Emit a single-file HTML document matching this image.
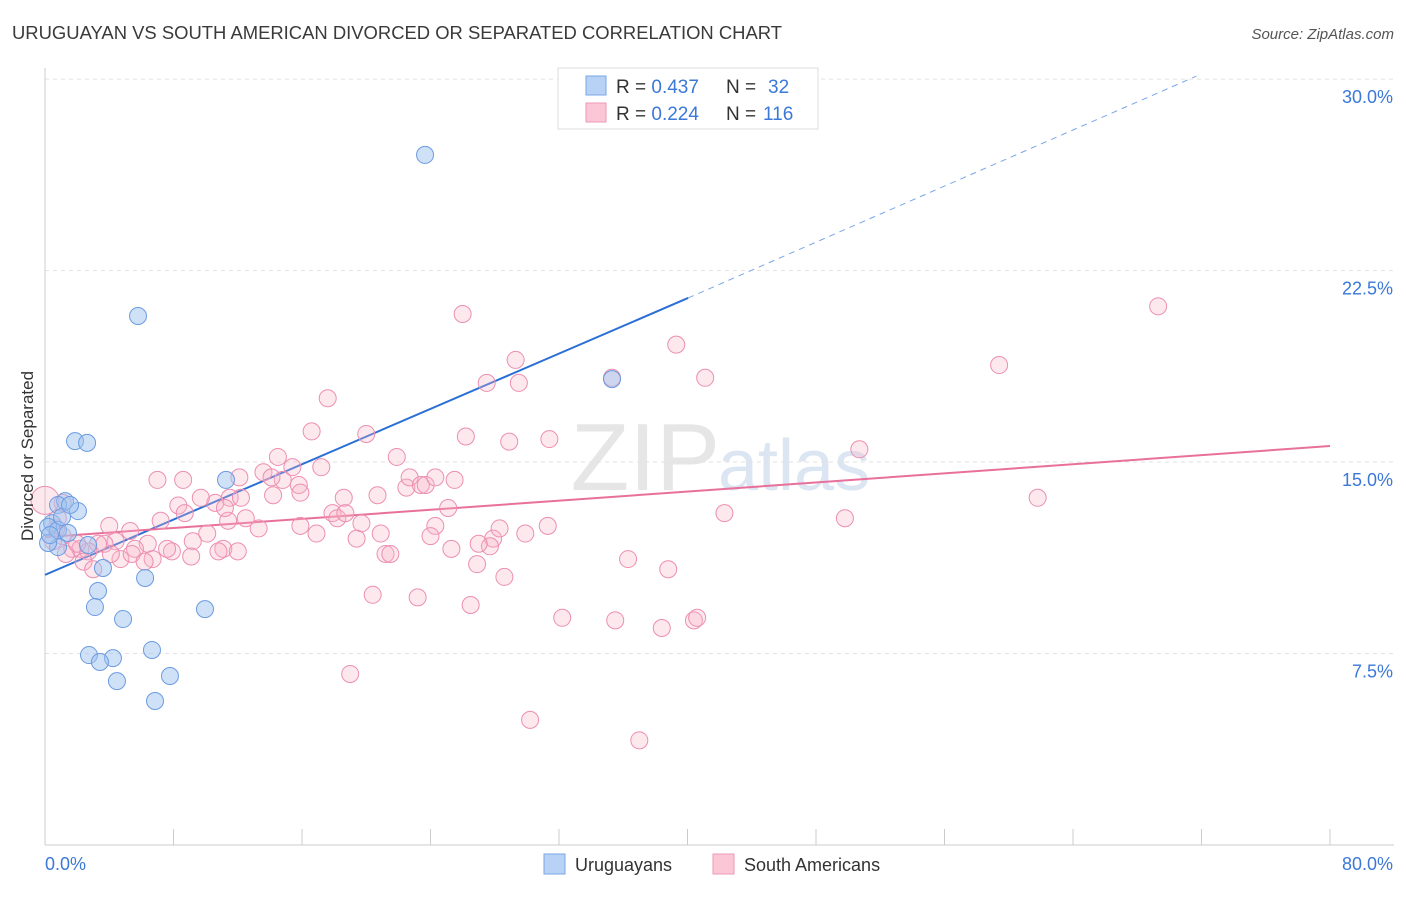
<!DOCTYPE html>
<html><head><meta charset="utf-8"><style>
body{margin:0;background:#fff;font-family:"Liberation Sans",sans-serif}
svg text{font-family:"Liberation Sans",sans-serif}
</style></head><body>
<svg id="chart" width="1406" height="892" viewBox="0 0 1406 892" xmlns="http://www.w3.org/2000/svg">
<text x="12" y="39" font-size="18" textLength="770" lengthAdjust="spacingAndGlyphs" fill="#3a3a3a">URUGUAYAN VS SOUTH AMERICAN DIVORCED OR SEPARATED CORRELATION CHART</text>
<text x="1394" y="39" font-size="15" fill="#555" text-anchor="end" font-style="italic">Source: ZipAtlas.com</text>
<text x="720" y="490" font-size="96" fill="#e6e6e6" text-anchor="end" font-family="Liberation Serif">ZIP</text>
<text x="718" y="490" font-size="72" fill="#dce6f2">atlas</text>
<g id="grid"></g>
<g id="axes"></g>
<g id="lines"></g>
<g id="points"></g>
<text transform="translate(33,456) rotate(-90)" font-size="17" fill="#333" text-anchor="middle">Divorced or Separated</text>
<g>
<rect x="558" y="68" width="260" height="61" fill="#fff" stroke="#ddd"/>
<rect x="586" y="76" width="20" height="19" fill="#b7d2f5" stroke="#7aa6e6"/>
<rect x="586" y="103" width="20" height="19" fill="#fbc6d6" stroke="#ee9ab6"/>
<text x="616" y="93" font-size="19" fill="#333">R = <tspan fill="#3b78d8">0.437</tspan></text>
<text x="726" y="93" font-size="19" fill="#333">N = </text>
<text x="768" y="93" font-size="19" fill="#3b78d8">32</text>
<text x="616" y="120" font-size="19" fill="#333">R = <tspan fill="#3b78d8">0.224</tspan></text>
<text x="726" y="120" font-size="19" fill="#333">N = </text>
<text x="763" y="120" font-size="19" fill="#3b78d8">116</text>
</g>
<g>
<rect x="544" y="854" width="21" height="20" fill="#b7d2f5" stroke="#7aa6e6"/>
<text x="575" y="871" font-size="18" fill="#333">Uruguayans</text>
<rect x="713" y="854" width="21" height="20" fill="#fbc6d6" stroke="#ee9ab6"/>
<text x="744" y="871" font-size="18" fill="#333">South Americans</text>
</g>
</svg>
<script>
const yTicks=[7.5,15,22.5,30];
const yTickLabels=["7.5%","15.0%","22.5%","30.0%"];
const xTickLabels=["0.0%","80.0%"];
const blueX=[23.66,5.79,35.30,1.87,2.62,11.27,1.25,0.81,2.05,0.44,0.19,0.81,1.43,2.68,0.81,0.19,3.61,6.23,3.30,3.11,9.96,4.86,6.66,2.74,4.23,3.42,7.78,4.48,6.85,1.06,0.31,1.56];
const blueY=[27.03,20.72,18.25,15.82,15.75,14.30,13.47,13.32,13.08,12.61,12.46,12.34,12.22,11.75,11.67,11.83,10.85,10.46,9.95,9.32,9.24,8.85,7.64,7.44,7.32,7.17,6.62,6.42,5.64,12.85,12.14,13.32];
const pinkX=[69.3,26.0,59.4,39.3,29.3,41.1,27.5,29.5,17.6,35.3,50.7,26.2,31.4,28.9,20.0,16.6,21.9,14.5,17.2,13.6,15.4,14.8,14.1,15.8,18.6,20.7,22.5,22.7,23.4,23.7,25.5,24.3,11.5,12.2,14.2,10.6,8.6,7.0,8.3,9.7,61.8,7.2,8.7,11.4,12.5,10.1,13.3,15.9,16.9,17.9,18.2,18.7,19.7,20.9,19.4,24.3,24.0,25.1,27.9,28.3,31.3,29.9,27.7,27.0,25.3,21.2,21.5,7.9,9.2,11.1,12.0,6.4,6.7,7.6,5.3,4.4,5.6,3.7,3.3,1.7,2.2,2.7,1.3,2.4,3.0,4.7,1.1,0.7,0.8,1.1,0.0,11.2,5.4,4.1,42.3,49.8,36.3,38.8,26.9,28.6,20.4,23.2,26.5,32.2,35.5,38.4,40.4,40.6,19.0,30.2,37.0,9.1,10.8,6.2,2.0,0.5,15.9,12.1,4.0];
const pinkY=[21.1,20.8,18.8,19.6,19.0,18.3,18.1,18.1,17.5,18.3,15.5,16.0,15.9,15.8,16.1,16.2,15.2,15.2,14.8,14.6,14.8,14.3,14.4,14.1,13.6,13.7,14.0,14.4,14.1,14.1,14.3,14.4,13.6,13.6,13.7,13.4,14.3,14.3,13.3,13.6,13.6,12.7,13.0,12.7,12.8,12.2,12.4,12.5,12.2,13.0,12.8,13.0,12.6,12.2,12.0,12.5,12.1,13.2,12.0,12.4,12.5,12.2,11.7,11.8,11.6,11.4,11.4,11.5,11.9,11.6,11.5,11.8,11.2,11.6,12.3,11.9,11.6,11.8,11.8,11.6,11.6,11.5,11.4,11.1,10.8,11.2,12.1,12.4,12.8,13.4,13.5,13.2,11.4,11.4,13.0,12.8,11.2,10.8,11.0,10.5,9.8,9.7,9.4,8.9,8.8,8.5,8.8,8.9,6.7,4.9,4.1,11.3,11.5,11.1,11.8,11.9,13.8,14.4,12.5];
const blueLine=[10.58,0.2709];
const pinkLine=[12.06,0.0446];
const NS="http://www.w3.org/2000/svg";
const X0=45,X1=1330,Y0=845,PX_PER_Y=25.53;
function sx(v){return X0+(X1-X0)*v/80;}
function sy(v){return Y0-v*PX_PER_Y;}
function mk(tag,attrs,parent){const e=document.createElementNS(NS,tag);for(const k in attrs)e.setAttribute(k,attrs[k]);parent.appendChild(e);return e;}
const grid=document.getElementById('grid'),axes=document.getElementById('axes');
yTicks.forEach((t,i)=>{
 const l=mk('line',{x1:X0,x2:1394,y1:sy(t),y2:sy(t),stroke:'#e2e2e2','stroke-dasharray':'4,4'},grid);
 
 
 const tx=mk('text',{x:1393,y:sy(t)+24,'font-size':18,fill:'#3b78d8','text-anchor':'end'},grid);
 tx.textContent=yTickLabels[i];
 
 
});
const ax=mk('line',{x1:X0,x2:1394,y1:Y0,y2:Y0,stroke:'#ccc'},axes);


const ay=mk('line',{x1:X0,x2:X0,y1:68,y2:Y0,stroke:'#ccc'},axes);


for(let i=0;i<=10;i++){
 const t=mk('line',{x1:sx(i*8),x2:sx(i*8),y1:Y0-16,y2:Y0,stroke:'#ccc'},axes);
 
 
}
[[0,'start'],[80,'end']].forEach((p,i)=>{
 const tx=mk('text',{x:i==0?X0:1393,y:870,'font-size':18,fill:'#3b78d8','text-anchor':p[1]},axes);
 tx.textContent=xTickLabels[i];
 
 
});
const lines=document.getElementById('lines');
const bEnd=40.04, bDashEnd=(30-blueLine[0])/blueLine[1];
const bl=mk('line',{x1:sx(0),y1:sy(blueLine[0]),x2:sx(bEnd),y2:sy(blueLine[0]+blueLine[1]*bEnd),stroke:'#2a6fd6','stroke-width':2},lines);


const bd=mk('line',{x1:sx(bEnd),y1:sy(blueLine[0]+blueLine[1]*bEnd),x2:sx(bDashEnd),y2:sy(30)-3,stroke:'#7aa6e6','stroke-width':1,'stroke-dasharray':'6,5'},lines);


const pl=mk('line',{x1:sx(0),y1:sy(pinkLine[0]),x2:sx(80),y2:sy(pinkLine[0]+pinkLine[1]*80),stroke:'#e8709a','stroke-width':2},lines);


const pts=document.getElementById('points');
pinkX.forEach((x,i)=>{
 const c=mk('circle',{cx:sx(x),cy:sy(pinkY[i]),r:(x===0?14:8.5),fill:'rgba(248,178,200,0.3)',stroke:'#ec8fb0','stroke-width':1},pts);
 
 
});
blueX.forEach((x,i)=>{
 const c=mk('circle',{cx:sx(x),cy:sy(blueY[i]),r:8.5,fill:'rgba(160,196,240,0.5)',stroke:'#6b9be0','stroke-width':1},pts);
 
 
});
</script>
</body></html>
